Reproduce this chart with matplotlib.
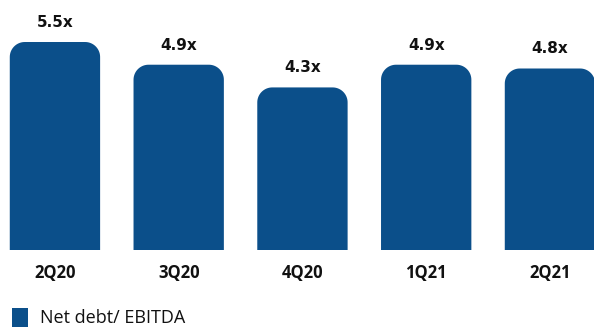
import numpy as np
import matplotlib.pyplot as plt
from matplotlib.patches import Polygon, Rectangle

quarters = ["2Q20", "3Q20", "4Q20", "1Q21", "2Q21"]
ratios = [5.5, 4.9, 4.3, 4.9, 4.8]
labels = ["5.5x", "4.9x", "4.3x", "4.9x", "4.8x"]

color = "#0B4F8A"

fig = plt.figure(figsize=(5.94, 3.27), dpi=100)
ax = fig.add_axes([0, 0.235, 1, 0.765])

bars = ax.bar(range(len(quarters)), ratios, width=0.73, color=color)
ax.set_xlim(-0.444, 4.356)
ax.set_ylim(0, 6.61)

# replace plain bars with ones that have rounded top corners
px_x = 594 / (4.356 + 0.444)
px_y = (0.765 * 327) / 6.61
rx = 15 / px_x
ry = 15 / px_y
t = np.linspace(0, np.pi / 2, 20)
for i, b in enumerate(bars):
    x, w, h = b.get_x(), b.get_width(), b.get_height()
    b.set_visible(False)
    right = np.column_stack([x + w - rx + rx * np.cos(t), h - ry + ry * np.sin(t)])
    left = np.column_stack([x + rx - rx * np.sin(t), h - ry + ry * np.cos(t)])
    pts = np.vstack([[x + w, 0], right, left, [x, 0]])
    ax.add_patch(Polygon(pts, closed=True, fc=color, ec="none"))
    ax.text(x + w / 2, h + 0.32, labels[i], ha="center", va="bottom",
            fontsize=11, fontweight="bold", color="#111111")

ax.set_xticks(range(len(quarters)))
ax.set_xticklabels(quarters, fontsize=12, fontweight="bold", family="Open Sans", color="#111111")
ax.tick_params(axis="x", length=0, pad=10)
ax.set_yticks([])
for s in ax.spines.values():
    s.set_visible(False)

fig.patches.append(Rectangle((12 / 594, 0), 16 / 594, 19 / 327, transform=fig.transFigure,
                             fc=color, ec="none"))
fig.text(40 / 594, 9 / 327, "Net debt/ EBITDA", fontsize=13, family="Open Sans",
         color="#111111", va="center")

fig.savefig("out.png", dpi=100)
